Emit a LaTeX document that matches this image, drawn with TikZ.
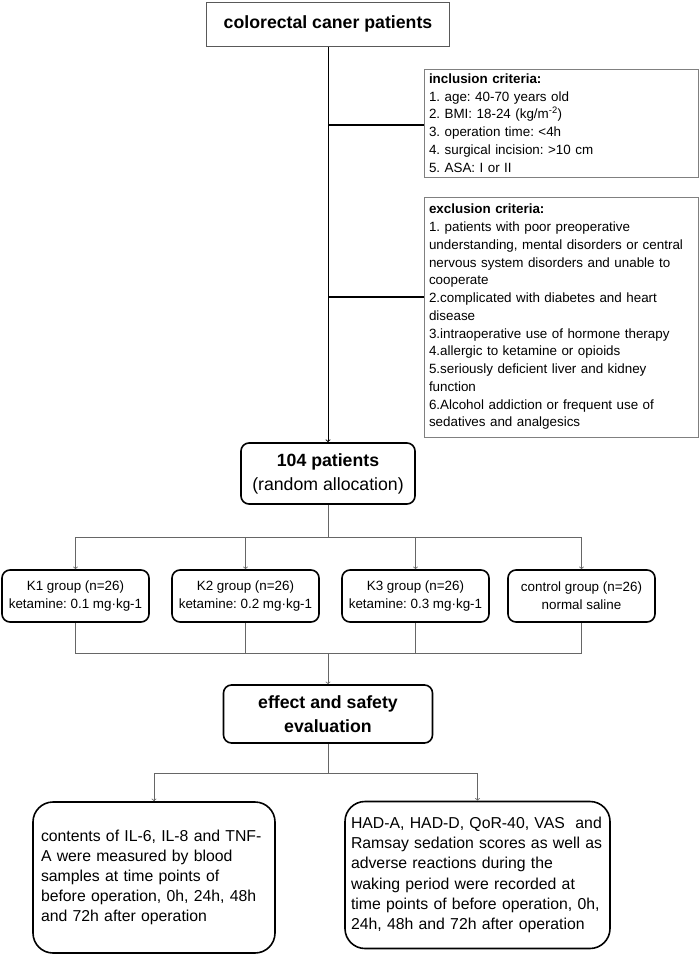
\documentclass[tikz,border=0pt]{standalone}
\usepackage{fontspec}
\setmainfont{Liberation Sans}
\usepackage{tikz}
\usetikzlibrary{positioning}
\frenchspacing
\newcommand{\critfont}{\fontsize{13.4}{17.75}\selectfont\frenchspacing}
\newcommand{\grpfont}{\fontsize{13.4}{18}\selectfont\frenchspacing}
\newcommand{\headfont}{\fontsize{17.7}{24}\selectfont\frenchspacing}
\newcommand{\outfont}{\fontsize{15.8}{20.2}\selectfont\frenchspacing}

\begin{document}
\begin{tikzpicture}[
                          x=1pt, y=1pt,
                          node distance=100pt,
                          on grid,
                          auto,
                          plainbox/.style={draw=black!65, line width=1pt, minimum width=243pt, minimum height=44pt, font=\headfont\bfseries},
                          critbox/.style={draw=black!50, line width=1pt, text width=264pt, inner xsep=5pt, inner ysep=0pt, align=left, font=\critfont},
                          roundbox/.style={draw, line width=1.6pt, rounded corners=8pt, align=center, inner sep=0pt},
                          grpbox/.style={roundbox, minimum width=147pt, minimum height=52pt, font=\grpfont},
                          outbox/.style={draw, line width=1.6pt, rounded corners=20pt, align=left, inner ysep=0pt, font=\outfont},
                          link/.style={draw=black!60, line width=0.8pt},
                          critlink/.style={draw=black, line width=2.8pt}]
                      \useasboundingbox (0,0) rectangle (699,-956);
                      \node[plainbox] (caner) at (328,-24) {colorectal caner patients};
                      \node[critbox, minimum height=108pt] (incl_crit) [below right=99pt and 233pt of caner]
                        {\textbf{inclusion criteria:}\\1. age: 40-70 years old\\2. BMI: 18-24 (kg/m\textsuperscript{-2})\\3. operation time: <4h\\4. surgical incision: >10 cm\\5. ASA: I or II};
                      \node[critbox, minimum height=240pt] (excl_crit) [below=194pt of incl_crit]
                        {\textbf{exclusion criteria:}\\1. patients with poor preoperative\\understanding, mental disorders or central\\nervous system disorders and unable to\\cooperate\\2.complicated with diabetes and heart\\disease\\3.intraoperative use of hormone therapy\\4.allergic to ketamine or opioids\\5.seriously deficient liver and kidney\\function\\6.Alcohol addiction or frequent use of\\sedatives and analgesics};
                      \node[roundbox, minimum width=174pt, minimum height=61pt, font=\headfont] (pat_104) [below=449.5pt of caner]
                        {\textbf{104 patients}\\(random allocation)};
                      \node[grpbox] (K_1) at (75.5,-596) {K1 group (n=26)\\ketamine: 0.1 mg·kg-1};
                      \node[grpbox] (K_2) [right=170pt of K_1] {K2 group (n=26)\\ketamine: 0.2 mg·kg-1};
                      \node[grpbox] (K_3) [right=170pt of K_2] {K3 group (n=26)\\ketamine: 0.3 mg·kg-1};
                      \node[grpbox] (ctrl) [right=166pt of K_3] {control group (n=26)\\normal saline};
                      \node[roundbox, minimum width=209pt, minimum height=58pt, font=\headfont\bfseries] (eval) [below=240.5pt of pat_104]
                        {effect and safety\\evaluation};
                      \node[outbox, text width=226pt, inner xsep=8pt, minimum height=151pt] (meas) [below left=163.5pt and 174pt of eval]
                        {contents of IL-6, IL-8 and TNF-\\A were measured by blood\\samples at time points of\\before operation, 0h, 24h, 48h\\and 72h after operation};
                      \node[outbox, text width=253pt, inner xsep=6pt, minimum height=147pt] (score) [below right=161pt and 149.5pt of eval]
                        {HAD-A, HAD-D, QoR-40, VAS\ \ and\\Ramsay sedation scores as well as\\adverse reactions during the\\waking period were recorded at\\time points of before operation, 0h,\\24h, 48h and 72h after operation};
                      \coordinate (incl_jn) at (328,-125);
                      \coordinate (excl_jn) at (328,-297);
                      \coordinate (grp_split) at (328,-537);
                      \coordinate (grp_merge) at (328,-653);
                      \coordinate (out_split) at (328,-773);
                      \draw[->, line width=0.9pt] (caner) -- (pat_104);
                      \draw[critlink] (incl_jn) -- (incl_jn -| incl_crit.west);
                      \draw[critlink] (excl_jn) -- (excl_jn -| excl_crit.west);
                      \draw[link] (pat_104) -- (grp_split);
                      \draw[link, ->] (grp_split) -| (K_1);
                      \draw[link, ->] (grp_split) -| (K_2);
                      \draw[link, ->] (grp_split) -| (K_3);
                      \draw[link, ->] (grp_split) -| (ctrl);
                      \draw[link] (K_1) |- (grp_merge);
                      \draw[link] (K_2) |- (grp_merge);
                      \draw[link] (K_3) |- (grp_merge);
                      \draw[link] (ctrl) |- (grp_merge);
                      \draw[link, ->] (grp_merge) -- (eval);
                      \draw[link] (eval) -- (out_split);
                      \draw[link, ->] (out_split) -| (meas);
                      \draw[link, ->] (out_split) -| (score);
                  \end{tikzpicture}
\end{document}
